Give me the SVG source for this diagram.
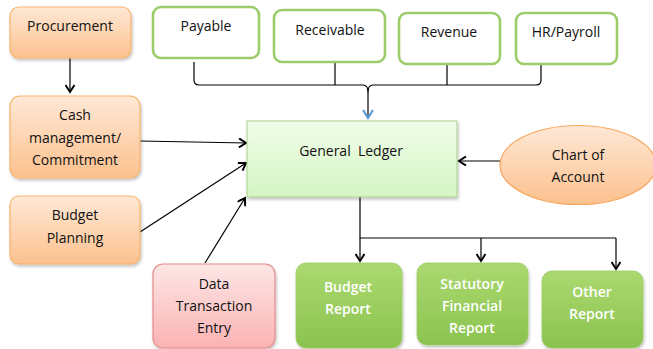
<svg xmlns="http://www.w3.org/2000/svg" width="653" height="349" viewBox="0 0 653 349">
<defs>
<linearGradient id="gOr" x1="0" y1="0" x2="0" y2="1"><stop offset="0" stop-color="#fee8d6"/><stop offset="1" stop-color="#fcc18e"/></linearGradient>
<linearGradient id="gPk" x1="0" y1="0" x2="0" y2="1"><stop offset="0" stop-color="#fde6e6"/><stop offset="1" stop-color="#fbb3b3"/></linearGradient>
<linearGradient id="gGL" x1="0" y1="0" x2="0" y2="1"><stop offset="0" stop-color="#f1fde9"/><stop offset="1" stop-color="#d4f5c4"/></linearGradient>
<linearGradient id="gGr" x1="0" y1="0" x2="0" y2="1"><stop offset="0" stop-color="#abd970"/><stop offset="1" stop-color="#8bc34f"/></linearGradient>
<filter id="sh" x="-10%" y="-10%" width="130%" height="130%"><feDropShadow dx="1" dy="2" stdDeviation="1.5" flood-color="#000" flood-opacity="0.25"/></filter>
<marker id="ah" markerWidth="10" markerHeight="10" refX="8" refY="5" orient="auto" markerUnits="userSpaceOnUse"><path d="M1,0.5 L8,5 L1,9.5" fill="none" stroke="#000" stroke-width="2"/></marker>
<marker id="ahb" markerWidth="12" markerHeight="12" refX="9" refY="6" orient="auto" markerUnits="userSpaceOnUse"><path d="M1,1 L9,6 L1,11" fill="none" stroke="#5b9bd5" stroke-width="2.2"/></marker>
</defs>
<style>
text{font-family:"Open Sans","Liberation Sans",sans-serif;font-size:14px;text-anchor:middle;fill:#111}
.w{fill:#fff;font-weight:600}
.or{fill:url(#gOr);stroke:#f9b46c;stroke-width:1.2}
.pk{fill:url(#gPk);stroke:#e78a8a;stroke-width:1.2}
.gl{fill:url(#gGL);stroke:#a9d18e;stroke-width:1}
.gr{fill:url(#gGr);stroke:#9ccc65;stroke-width:0.8}
.ob{fill:#fff;stroke:#9dcc6c;stroke-width:2.6}
.c{fill:none;stroke:#000;stroke-width:1.2}
</style>
<g id="connectors">
<path class="c" d="M70,58 V92" marker-end="url(#ah)"/>
<path class="c" d="M140,141 L246,143" marker-end="url(#ah)"/>
<path class="c" d="M140,232 L246,163" marker-end="url(#ah)"/>
<path class="c" d="M205,263 L245,198" marker-end="url(#ah)"/>
<path class="c" d="M500,161 L459,161" marker-end="url(#ah)"/>
<path class="c" d="M194,62 V80 Q194,85 199,85 H363 Q368,85 368,92"/>
<path class="c" d="M541,64 V80 Q541,85 536,85 H373 Q368,85 368,92"/>
<path class="c" d="M335,62 V85 M447,64 V85"/>
<path d="M368,92 V118" fill="none" stroke="#000" stroke-width="1.2" marker-end="url(#ahb)"/>
<path class="c" d="M360,197 V238 H616"/>
<path class="c" d="M360,238 V261" marker-end="url(#ah)"/>
<path class="c" d="M481,238 V261" marker-end="url(#ah)"/>
<path class="c" d="M616,238 V269" marker-end="url(#ah)"/>
</g>
<g id="procurement"><rect class="or" x="10" y="7" width="121" height="51" rx="9" filter="url(#sh)"/><text x="70" y="31">Procurement</text></g>
<g id="cash"><rect class="or" x="10" y="96" width="130" height="82" rx="10" filter="url(#sh)"/><text x="75" y="120">Cash</text><text x="75" y="143">management/</text><text x="75" y="165">Commitment</text></g>
<g id="budgetplanning"><rect class="or" x="10" y="196" width="130" height="68" rx="9" filter="url(#sh)"/><text x="75" y="220">Budget</text><text x="75" y="243">Planning</text></g>
<g id="datatransaction"><rect class="pk" x="153" y="264" width="122" height="84" rx="10" filter="url(#sh)"/><text x="214" y="289">Data</text><text x="214" y="311">Transaction</text><text x="214" y="333">Entry</text></g>
<g id="payable"><rect class="ob" x="153" y="7" width="106" height="51" rx="8"/><text x="206" y="31">Payable</text></g>
<g id="receivable"><rect class="ob" x="274" y="10" width="111" height="52" rx="8"/><text x="330" y="35">Receivable</text></g>
<g id="revenue"><rect class="ob" x="399" y="13" width="101" height="51" rx="8"/><text x="449" y="37">Revenue</text></g>
<g id="hrpayroll"><rect class="ob" x="516" y="13" width="101" height="51" rx="8"/><text x="566" y="37">HR/Payroll</text></g>
<g id="generalledger"><rect class="gl" x="247" y="121" width="210" height="76" filter="url(#sh)"/><text x="351" y="156" xml:space="preserve">General  Ledger</text></g>
<g id="chartofaccount"><ellipse cx="578" cy="165" rx="78" ry="39.5" fill="url(#gOr)" stroke="#f7a55a" stroke-width="1.2"/><text x="578" y="160">Chart of</text><text x="578" y="182">Account</text></g>
<g id="budgetreport"><rect class="gr" x="296" y="263" width="106" height="85" rx="10" filter="url(#sh)"/><text class="w" x="348" y="292">Budget</text><text class="w" x="348" y="314">Report</text></g>
<g id="statutory"><rect class="gr" x="417" y="263" width="111" height="82" rx="10" filter="url(#sh)"/><text class="w" x="472" y="289">Statutory</text><text class="w" x="472" y="311">Financial</text><text class="w" x="472" y="333">Report</text></g>
<g id="otherreport"><rect class="gr" x="542" y="271" width="101" height="77" rx="10" filter="url(#sh)"/><text class="w" x="592" y="297">Other</text><text class="w" x="592" y="319">Report</text></g>
</svg>
